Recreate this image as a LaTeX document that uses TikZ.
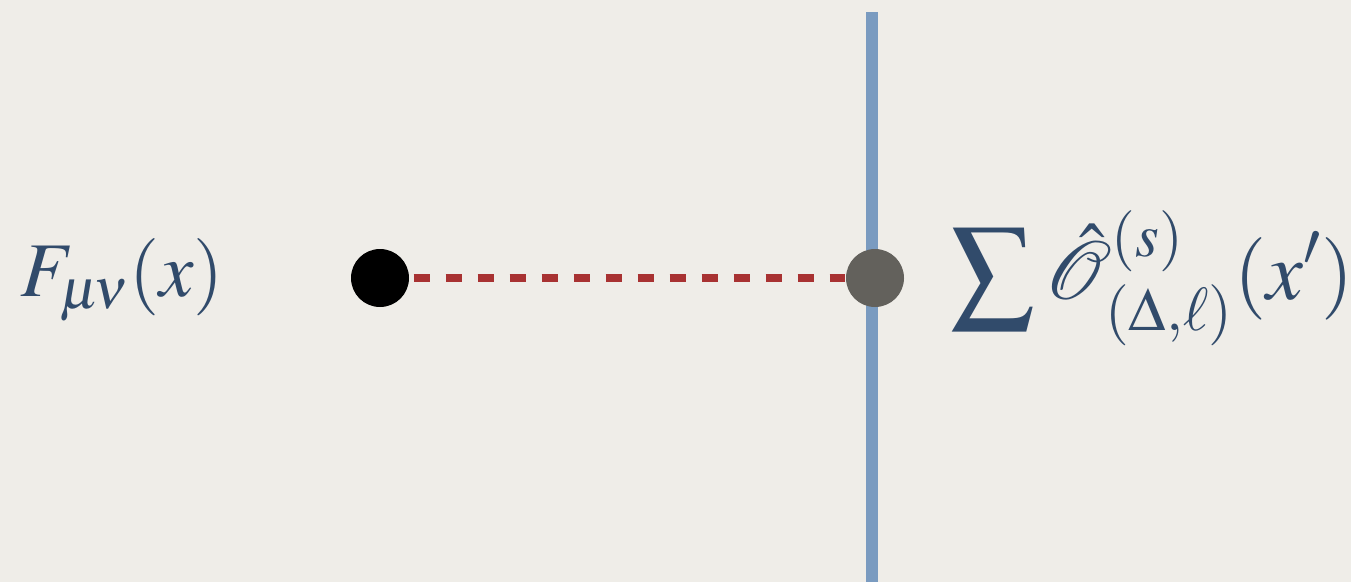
\documentclass[tikz,border=0pt]{standalone}
\usepackage{amsmath}
\usepackage{mathptmx}
\usetikzlibrary{positioning}
\definecolor{bgPaper}{HTML}{EFEDE8}
\definecolor{lnWall}{HTML}{7A9BC0}
\definecolor{lnDash}{HTML}{A83232}
\definecolor{dotGray}{HTML}{63615C}
\definecolor{txtInk}{HTML}{314B6B}

\begin{document}
\begin{tikzpicture}[x=1cm, y=1cm,
        pt/.style={circle, inner sep=0pt, minimum size=0.58cm},
        lbl/.style={text=txtInk, inner sep=0pt, font=\fontsize{22}{26}\selectfont},
        wall/.style={lnWall, line width=0.12cm},
        link/.style={lnDash, line width=0.08cm, dash pattern=on 0.16cm off 0.16cm, shorten <=0.04cm}]
        \fill[bgPaper] (0,0) rectangle (13.51,5.82);
        \useasboundingbox (0,0) rectangle (13.51,5.82);
        \coordinate (top) at (8.72,5.70);
        \coordinate (bot) at (8.72,0);
        \draw[wall] (top) -- (bot);
        \node[pt, fill=black] (bulk) at (3.80,3.04) {};
        \node[pt, fill=dotGray] (bdy) at (8.75,3.04) {};
        \draw[link] (bulk) -- (bdy);
        \node[lbl, anchor=west] (field) at (0.2,3.02) {$F_{\mu\!\nu}(x)$};
        \node[lbl, font=\fontsize{23.5}{28}\selectfont, anchor=west, right=0.45cm of bdy] (ope) {$\displaystyle\sum \hat{\mathcal{O}}^{(s)}_{(\Delta,\ell)}(x')$};
      \end{tikzpicture}
\end{document}
